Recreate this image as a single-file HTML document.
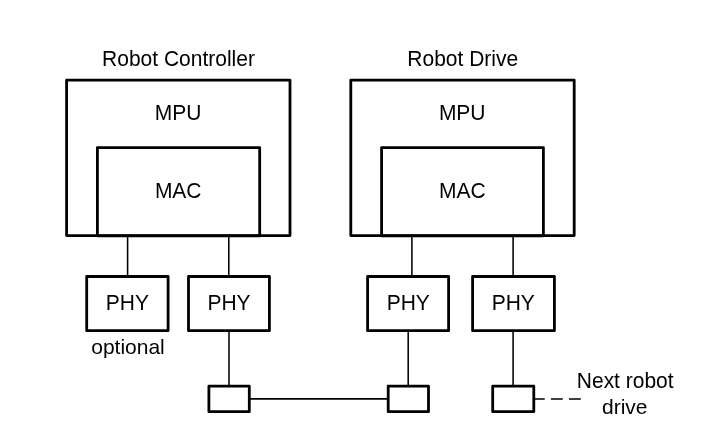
<!DOCTYPE html>
<html>
<head>
<meta charset="utf-8">
<title>Robot Controller / Robot Drive</title>
<style>
html,body{margin:0;padding:0;background:#ffffff;}
body{width:718px;height:447px;overflow:hidden;}
svg{display:block;will-change:transform;transform:translateZ(0);}
text{font-family:"Liberation Sans",sans-serif;font-size:21px;fill:#000;text-anchor:middle;}
.b{fill:none;stroke:#000;stroke-width:2.8;stroke-linejoin:round;}
.l{fill:none;stroke:#000;stroke-width:1.55;}
</style>
</head>
<body>
<svg width="718" height="447" viewBox="0 0 718 447">
<rect x="0" y="0" width="718" height="447" fill="#ffffff"/>

<!-- thin connectors -->
<g class="l">
<line x1="127.6" y1="236" x2="127.6" y2="276"/>
<line x1="228.8" y1="236" x2="228.8" y2="276"/>
<line x1="229" y1="330" x2="229" y2="386"/>
<line x1="249" y1="398.9" x2="388" y2="398.9" stroke-width="1.7"/>
<line x1="411.9" y1="236" x2="411.9" y2="276"/>
<line x1="513.1" y1="236" x2="513.1" y2="276"/>
<line x1="408.2" y1="330" x2="408.2" y2="386"/>
<line x1="513.1" y1="330" x2="513.1" y2="386"/>
<line x1="532.9" y1="399" x2="581" y2="399" stroke-width="1.55" stroke-dasharray="11.8 6.25"/>
</g>

<!-- Robot Controller -->
<rect class="b" x="66.6" y="80.2" width="223.4" height="155.4"/>
<rect class="b" x="97.4" y="147.6" width="162.3" height="88.3"/>
<rect class="b" x="86.7" y="276.5" width="81.4" height="54.2"/>
<rect class="b" x="188.5" y="276.5" width="80.9" height="54.2"/>
<rect class="b" x="208.9" y="386.2" width="40.4" height="25.5"/>

<!-- Robot Drive -->
<rect class="b" x="350.8" y="80.2" width="223.4" height="155.4"/>
<rect class="b" x="381.6" y="147.6" width="161.8" height="88.3"/>
<rect class="b" x="367.6" y="276.5" width="81" height="54.2"/>
<rect class="b" x="472.6" y="276.5" width="81.8" height="54.2"/>
<rect class="b" x="388.2" y="386.2" width="40.3" height="25.5"/>
<rect class="b" x="492.7" y="386.2" width="41.1" height="25.5"/>

<!-- labels -->
<text transform="translate(178.5 65.7) scale(1 1.03)">Robot Controller</text>
<text transform="translate(178.1 119.8) scale(1 1.04)">MPU</text>
<text transform="translate(178.2 197.6) scale(1 1.04)">MAC</text>
<text transform="translate(462.7 65.7) scale(1 1.03)">Robot Drive</text>
<text transform="translate(462.2 119.8) scale(1 1.04)">MPU</text>
<text transform="translate(462.4 197.6) scale(1 1.04)">MAC</text>
<text transform="translate(127.4 310.0) scale(1 1.04)">PHY</text>
<text transform="translate(229.0 310.0) scale(1 1.04)">PHY</text>
<text transform="translate(408.2 310.0) scale(1 1.04)">PHY</text>
<text transform="translate(513.2 310.0) scale(1 1.04)">PHY</text>
<text transform="translate(128.0 354.3) scale(1 1.0)">optional</text>
<text transform="translate(625.2 388.4) scale(1 1.03)">Next robot</text>
<text transform="translate(624.8 413.8) scale(1 1.0)">drive</text>
</svg>
</body>
</html>
